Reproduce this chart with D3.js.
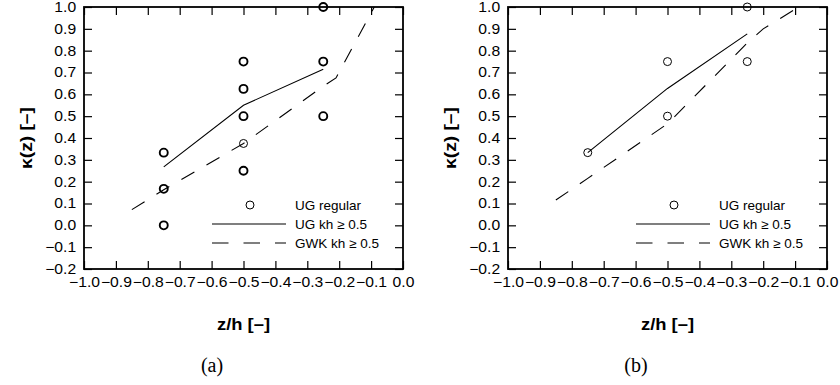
<!DOCTYPE html>
<html>
<head>
<meta charset="utf-8">
<script src="https://cdn.jsdelivr.net/npm/d3@7"></script>
<style>
  html, body { margin: 0; padding: 0; background: #fff; }
  svg { display: block; }
</style>
</head>
<body>
<svg id="chart" width="840" height="385"></svg>
<script>
// ---------- data ----------
const xTicks = [-1.0, -0.9, -0.8, -0.7, -0.6, -0.5, -0.4, -0.3, -0.2, -0.1, 0.0];
const yTicks = [-0.2, -0.1, 0.0, 0.1, 0.2, 0.3, 0.4, 0.5, 0.6, 0.7, 0.8, 0.9, 1.0];
const legendLabels = ["UG regular", "UG kh \u2265 0.5", "GWK kh \u2265 0.5"];
const panelCaptions = ["(a)", "(b)"];

// panel (a): [z/h, kappa, number of coinciding samples]
const ugRegularA = [
  [-0.75, 0.333, 2], [-0.75, 0.167, 2], [-0.75, 0.0, 2],
  [-0.5, 0.75, 2], [-0.5, 0.625, 2], [-0.5, 0.5, 2], [-0.5, 0.375, 1], [-0.5, 0.25, 2],
  [-0.25, 1.0, 2], [-0.25, 0.75, 2], [-0.25, 0.5, 2]
];
const ugKhA = [[-0.75, 0.268], [-0.5, 0.55], [-0.25, 0.715]];
const gwkKhA = [[-0.85, 0.072], [-0.75, 0.163], [-0.5, 0.375], [-0.25, 0.637], [-0.21, 0.675], [-0.09, 1.0]];

// panel (b)
const ugRegularB = [
  [-0.75, 0.333, 1], [-0.5, 0.75, 1], [-0.5, 0.5, 1], [-0.25, 1.0, 1], [-0.25, 0.75, 1]
];
const ugKhB = [[-0.75, 0.333], [-0.5, 0.627], [-0.25, 0.877]];
const gwkKhB = [[-0.85, 0.116], [-0.75, 0.215], [-0.5, 0.465], [-0.25, 0.835], [-0.2, 0.9], [-0.105, 0.985]];

// ---------- drawing ----------
const svg = d3.select("#chart");
const fmt = d3.format(".1f");
const SANS = "'Liberation Sans', Arial, Helvetica, sans-serif";
const SX = 1.12; // horizontal stretch of the sans-serif texts

const panels = [
  { left: 84, pts: ugRegularA, solid: ugKhA, dashed: gwkKhA, caption: panelCaptions[0], capX: 212 },
  { left: 508, pts: ugRegularB, solid: ugKhB, dashed: gwkKhB, caption: panelCaptions[1], capX: 636 }
];

const plotW = 319, plotTop = 7, plotBottom = 269;
const tickLen = 8;

panels.forEach((p, i) => {
  const g = svg.append("g");
  const x = d3.scaleLinear().domain([-1, 0]).range([p.left, p.left + plotW]);
  const y = d3.scaleLinear().domain([-0.2, 1.0]).range([plotBottom, plotTop]);

  const clipId = "clip" + i;
  svg.append("clipPath").attr("id", clipId).append("rect")
    .attr("x", p.left).attr("y", plotTop).attr("width", plotW).attr("height", plotBottom - plotTop);

  const line = d3.line().x(d => x(d[0])).y(d => y(d[1]));

  // lines
  g.append("path").datum(p.solid).attr("d", line)
    .attr("fill", "none").attr("stroke", "#000").attr("stroke-width", 1.1)
    .attr("clip-path", `url(#${clipId})`);
  g.append("path").datum(p.dashed).attr("d", line)
    .attr("fill", "none").attr("stroke", "#000").attr("stroke-width", 1.1)
    .attr("stroke-dasharray", "15,14")
    .attr("clip-path", `url(#${clipId})`);

  // axes with inward ticks
  const axB = d3.axisBottom(x).tickValues(xTicks).tickSize(-tickLen).tickFormat(fmt).tickPadding(8);
  const axT = d3.axisTop(x).tickValues(xTicks).tickSize(-tickLen).tickFormat("");
  const axL = d3.axisLeft(y).tickValues(yTicks).tickSize(-tickLen).tickFormat(fmt).tickPadding(7);
  const axR = d3.axisRight(y).tickValues(yTicks).tickSize(-tickLen).tickFormat("");

  const styleAxis = sel => {
    sel.select(".domain").remove();
    sel.selectAll(".tick line").attr("stroke", "#000").attr("stroke-width", 1.2);
    sel.selectAll(".tick text").attr("fill", "#000")
      .attr("transform", `scale(${SX},1)`)
      .style("font-family", SANS).style("font-size", "14px");
  };
  g.append("g").attr("transform", `translate(0,${plotBottom})`).call(axB).call(styleAxis);
  g.append("g").attr("transform", `translate(0,${plotTop})`).call(axT).call(styleAxis);
  g.append("g").attr("transform", `translate(${p.left},0)`).call(axL).call(styleAxis);
  g.append("g").attr("transform", `translate(${p.left + plotW},0)`).call(axR).call(styleAxis);

  // frame
  g.append("rect").attr("x", p.left).attr("y", plotTop).attr("width", plotW).attr("height", plotBottom - plotTop)
    .attr("fill", "none").attr("stroke", "#000").attr("stroke-width", 1.8);

  // points
  g.selectAll("circle.pt").data(p.pts).enter().append("circle")
    .attr("class", "pt")
    .attr("cx", d => x(d[0])).attr("cy", d => y(d[1])).attr("r", 4)
    .attr("fill", "none").attr("stroke", "#000")
    .attr("stroke-width", d => d[2] > 1 ? 1.9 : 1.0);

  // legend
  const lx0 = p.left + 128, lx1 = p.left + 202, lcx = p.left + 166, tx = p.left + 211;
  const ly = [205, 224, 243];
  g.append("circle").attr("cx", lcx).attr("cy", ly[0]).attr("r", 4)
    .attr("fill", "none").attr("stroke", "#000").attr("stroke-width", 1.0);
  g.append("line").attr("x1", lx0).attr("x2", lx1).attr("y1", ly[1]).attr("y2", ly[1])
    .attr("stroke", "#000").attr("stroke-width", 1.1);
  g.append("line").attr("x1", lx0).attr("x2", lx1).attr("y1", ly[2]).attr("y2", ly[2])
    .attr("stroke", "#000").attr("stroke-width", 1.1).attr("stroke-dasharray", "16.5,15");
  legendLabels.forEach((t, k) => {
    g.append("text").attr("transform", `translate(${tx},${ly[k] + 4.6}) scale(1.04,1)`).text(t)
      .style("font-family", SANS).style("font-size", "13px");
  });

  // axis titles
  g.append("text").attr("transform", `translate(${p.left + plotW / 2},330) scale(1.15,1)`)
    .attr("text-anchor", "middle")
    .style("font-family", SANS).style("font-size", "16px")
    .style("font-weight", "bold").text("z/h [\u2013]");
  g.append("text").attr("transform", `translate(${p.left - 52},138) rotate(-90) scale(1.2,1)`)
    .attr("text-anchor", "middle")
    .style("font-family", SANS).style("font-size", "16px")
    .style("font-weight", "bold").text("\u03ba(z) [\u2013]");

  // caption
  g.append("text").attr("x", p.capX).attr("y", 372).attr("text-anchor", "middle")
    .style("font-family", "'Liberation Serif', 'Times New Roman', serif").style("font-size", "20px")
    .text(p.caption);
});
</script>
</body>
</html>
